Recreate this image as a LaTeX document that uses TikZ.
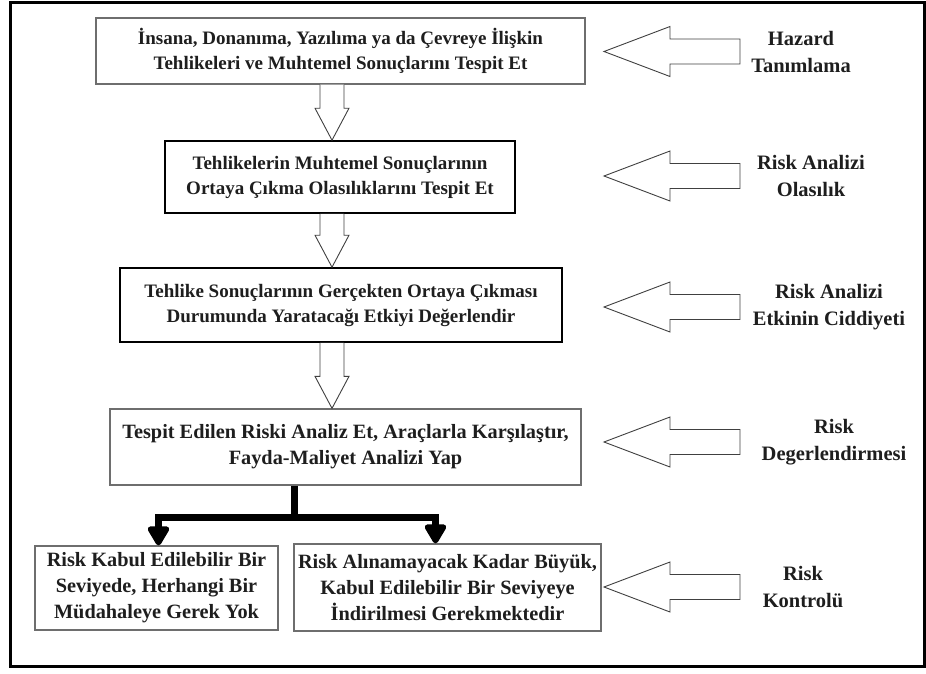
\documentclass[tikz,border=0pt]{standalone}
\usepackage{fontspec}
\setmainfont{Liberation Serif}[BoldFont={Liberation Serif Bold}]
\usetikzlibrary{calc,arrows.meta}
\definecolor{ink}{HTML}{1E1E1E}
\definecolor{rim}{HTML}{6E6E6E}
\begin{document}
\begin{tikzpicture}[x=1pt,y=-1pt,
  every node/.style={text=ink,font=\rmfamily\bfseries\fontsize{19}{25}\selectfont,align=center,inner sep=0pt},
  stepbox/.style={draw=rim,line width=1.3pt,minimum width=#1,fill=white},
  darkbox/.style={draw=black,line width=1.6pt},
  larger/.style={font=\rmfamily\bfseries\fontsize{20.3}{26}\selectfont},
  hollow/.style={draw=black!75,line width=0.9pt,line join=miter,fill=white},
  bus/.style={line width=7pt,line join=miter,draw=black},
  stagetext/.style={font=\rmfamily\bfseries\fontsize{20.5}{27}\selectfont}]
\useasboundingbox (0,0) rectangle (926,673);
% outer frame
\draw[line width=3pt] (10,2) rectangle (924,666);

% process boxes
\node[stepbox=489pt,minimum height=66pt] (b1) at (340.5,51)
  {İnsana, Donanıma, Yazılıma ya da Çevreye İlişkin\\Tehlikeleri ve Muhtemel Sonuçlarını Tespit Et};
\node[stepbox=350pt,minimum height=72pt,darkbox] (b2) at (340,177)
  {Tehlikelerin Muhtemel Sonuçlarının\\Ortaya Çıkma Olasılıklarını Tespit Et};
\node[stepbox=442pt,minimum height=74pt,darkbox] (b3) at (341,305)
  {Tehlike Sonuçlarının Gerçekten Ortaya Çıkması\\Durumunda Yaratacağı Etkiyi Değerlendir};
\node[stepbox=471pt,minimum height=76pt,larger] (b4) at (345.5,447)
  {Tespit Edilen Riski Analiz Et, Araçlarla Karşılaştır,\\Fayda-Maliyet Analizi Yap};
\node[stepbox=243pt,minimum height=84pt,larger] (b5) at (156.5,588)
  {Risk Kabul Edilebilir Bir\\Seviyede, Herhangi Bir\\Müdahaleye Gerek Yok};
\node[stepbox=307pt,minimum height=87pt,larger] (b6) at (447.5,587.5)
  {Risk Alınamayacak Kadar Büyük,\\Kabul Edilebilir Bir Seviyeye\\İndirilmesi Gerekmektedir};

% stage labels
\node[stagetext] (l1) at (801,51.5) {Hazard\\Tanımlama};
\node[stagetext] (l2) at (811,176) {Risk Analizi\\Olasılık};
\node[stagetext] (l3) at (829,307) {Risk Analizi\\Etkinin Ciddiyeti};
\node[stagetext] (l4) at (834,442) {Risk\\Degerlendirmesi};
\node[stagetext] (l5) at (803,587) {Risk\\Kontrolü};

% hollow block arrows between successive steps
\coordinate (axis) at (332,0);
\foreach \a/\b in {b1/b2,b2/b3,b3/b4}{
  \draw[hollow] let \p1=(\a.south -| axis), \p2=(\b.north -| axis) in
    (\x1-12pt,\y1) -- (\x1-12pt,\y2+32pt) -- (\x1-17pt,\y2+32pt) -- (\x2,\y2)
    -- (\x1+17pt,\y2+32pt) -- (\x1+12pt,\y2+32pt) -- (\x1+12pt,\y1);
}

% hollow arrows from each stage label towards the flow
\coordinate (tipcol) at (604,0);
\foreach \l in {l1,l2,l3,l4,l5}{
  \draw[hollow] let \p1=(\l.center -| tipcol) in
    (\x1,\y1) -- (\x1+66pt,\y1+25pt) -- (\x1+66pt,\y1+12.5pt) -- (\x1+136pt,\y1+12.5pt)
    -- (\x1+136pt,\y1-12.5pt) -- (\x1+66pt,\y1-12.5pt) -- (\x1+66pt,\y1-25pt) -- cycle;
}

% decision fork under the analysis step
\coordinate (fork) at (294,517);
\draw[bus] (b4.south -| fork) -- (fork);
\draw[bus,-{Triangle[width=24pt,length=22pt,round]}] (fork) -| ($(b5.north)+(2,0)$);
\draw[bus,-{Triangle[width=24pt,length=22pt,round]}] (fork) -| ($(b6.north)+(-12,0)$);
\end{tikzpicture}
\end{document}
